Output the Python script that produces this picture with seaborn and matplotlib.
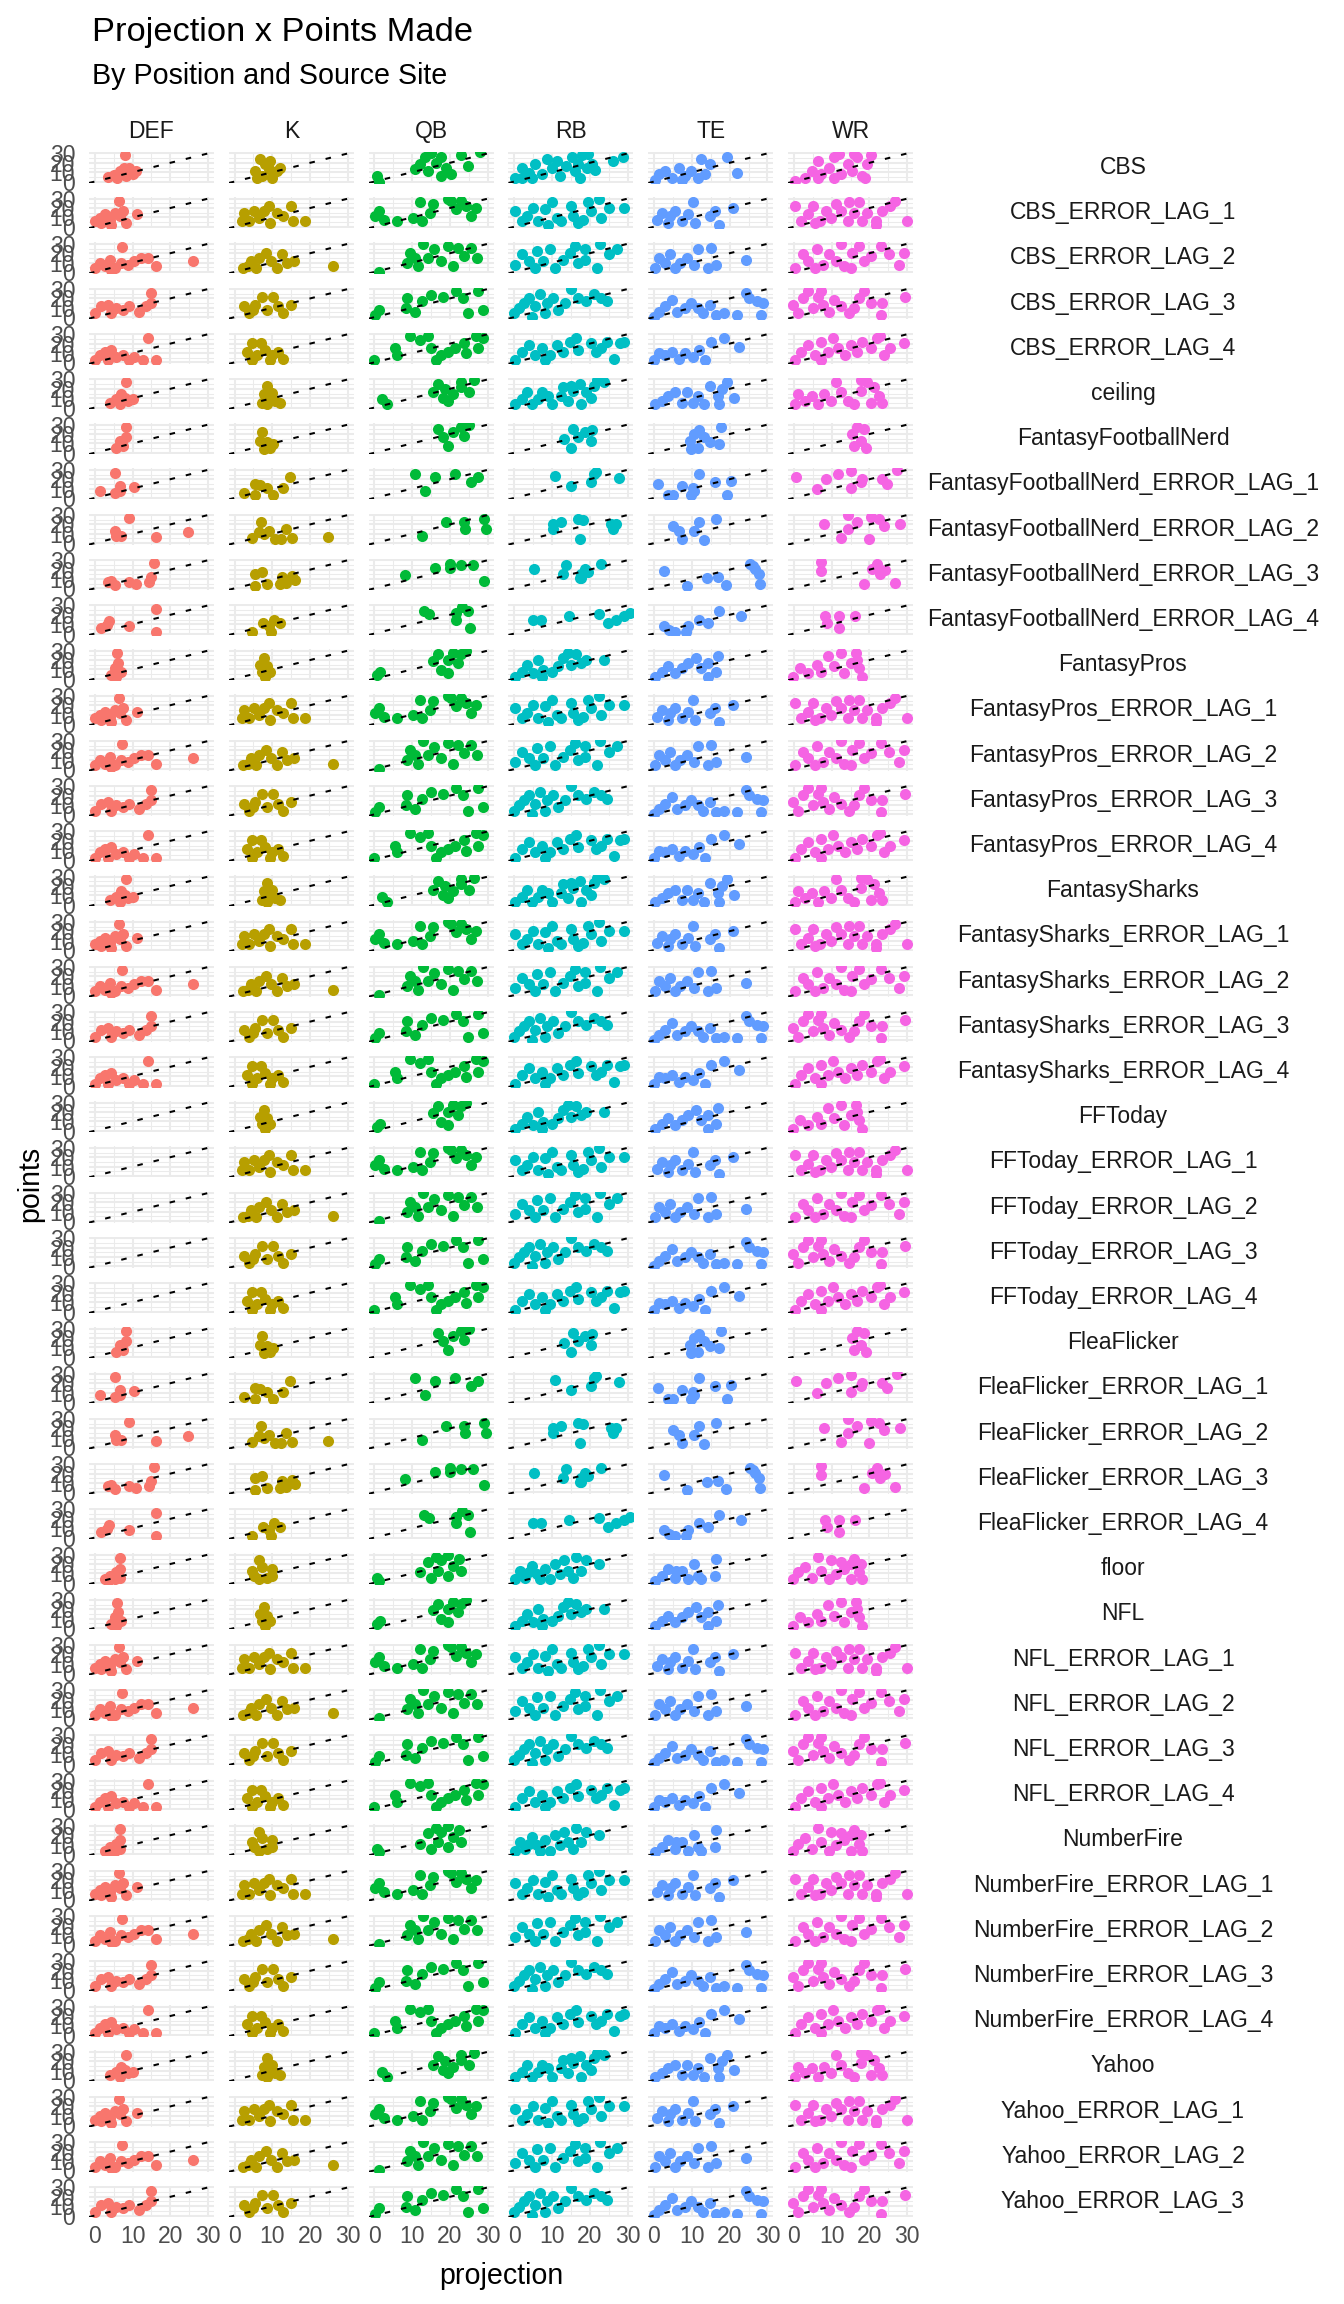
import matplotlib
matplotlib.use("Agg")
import matplotlib.pyplot as plt
import matplotlib.transforms as mtransforms
import seaborn as sns
import pandas as pd

"""
Data read off the reference chart (projection, points) per position.
Rows of the same kind (same lag, similar source) share one reading.
"""

POSITIONS = ["DEF", "K", "QB", "RB", "TE", "WR"]
COLORS = ["#F8766D", "#B79F00", "#00BA38", "#00BFC4", "#619CFF", "#F564E3"]

SOURCES = [
    "CBS", "CBS_ERROR_LAG_1", "CBS_ERROR_LAG_2", "CBS_ERROR_LAG_3", "CBS_ERROR_LAG_4",
    "ceiling",
    "FantasyFootballNerd", "FantasyFootballNerd_ERROR_LAG_1", "FantasyFootballNerd_ERROR_LAG_2",
    "FantasyFootballNerd_ERROR_LAG_3", "FantasyFootballNerd_ERROR_LAG_4",
    "FantasyPros", "FantasyPros_ERROR_LAG_1", "FantasyPros_ERROR_LAG_2",
    "FantasyPros_ERROR_LAG_3", "FantasyPros_ERROR_LAG_4",
    "FantasySharks", "FantasySharks_ERROR_LAG_1", "FantasySharks_ERROR_LAG_2",
    "FantasySharks_ERROR_LAG_3", "FantasySharks_ERROR_LAG_4",
    "FFToday", "FFToday_ERROR_LAG_1", "FFToday_ERROR_LAG_2", "FFToday_ERROR_LAG_3",
    "FFToday_ERROR_LAG_4",
    "FleaFlicker", "FleaFlicker_ERROR_LAG_1", "FleaFlicker_ERROR_LAG_2",
    "FleaFlicker_ERROR_LAG_3", "FleaFlicker_ERROR_LAG_4",
    "floor",
    "NFL", "NFL_ERROR_LAG_1", "NFL_ERROR_LAG_2", "NFL_ERROR_LAG_3", "NFL_ERROR_LAG_4",
    "NumberFire", "NumberFire_ERROR_LAG_1", "NumberFire_ERROR_LAG_2",
    "NumberFire_ERROR_LAG_3", "NumberFire_ERROR_LAG_4",
    "Yahoo", "Yahoo_ERROR_LAG_1", "Yahoo_ERROR_LAG_2", "Yahoo_ERROR_LAG_3",
]

CBS = {
    "DEF": [(3.5, 5), (5, 7), (6.8, 11), (7.7, 15), (9.2, 14), (10, 8), (8.3, 6), (6, 4), (11, 11), (8, 28)],
    "K": [(6.8, 24), (8.1, 19), (5.5, 11), (7.3, 6), (9.9, 4), (11.2, 11), (12, 15), (9, 13), (5.9, 4), (9.4, 22)],
    "QB": [(0.7, 6), (1.2, 0), (12, 19), (13.3, 26), (15.1, 30), (16.4, 20), (17.7, 26), (17.7, 6), (19, 15),
           (20.3, 8), (22.9, 28), (24.7, 17), (28, 31), (10.7, 13), (14.2, 11)],
    "RB": [(0.3, 4), (2.1, 15), (3.8, 9.5), (5.5, 18.7), (7.3, 7.7), (8.6, 24), (9.9, 15), (11.2, 22), (12, 5.9),
           (13.8, 16.8), (15.3, 26), (16.2, 11.4), (17.5, 4), (17.9, 27.8), (19.6, 29.7), (20.5, 18.7), (21.4, 12),
           (26.2, 21.6), (28.8, 26), (17, 18.7), (19.2, 15), (4.7, 4), (2, 4)],
    "TE": [(1.2, 7.7), (3, 11.4), (4.7, 4), (6.5, 15), (8.1, 5.9), (9.9, 11.4), (11.6, 4), (12.5, 24), (14.7, 18.7),
           (13.4, 7.7), (19.4, 26), (22, 9.5), (0.3, 2.2), (7.3, 2.2)],
    "WR": [(0.3, 0.4), (2.9, 4), (4.7, 11.4), (6.4, 22), (7.3, 7.7), (9.4, 15), (10.7, 26), (12, 29.7), (12.5, 7.7),
           (14.2, 18.7), (15.5, 11.4), (16.8, 26), (18.1, 5.9), (19.4, 18.7), (20.3, 27.8), (18.9, 4), (10.7, 4),
           (16, 29.7), (6.4, 4)],
}

LAG1 = {
    "DEF": [(6.3, 27.8), (0, 5.9), (1.3, 9.5), (2.7, 13.2), (4, 7.7), (5.3, 15), (6.6, 11.4), (7.4, 16.8), (8.3, 4),
            (4.4, 2.2), (11.3, 13.2), (1.8, 4)],
    "K": [(2.5, 15), (3.8, 5.9), (5.1, 16.8), (6.4, 9.5), (7.7, 16.8), (9, 22), (9.4, 4), (11.2, 15), (12.9, 11.4),
          (15, 22), (15.5, 5.9), (18.6, 5.9), (2, 5.9)],
    "QB": [(1.2, 16.8), (2.5, 7.7), (6, 5.9), (10.3, 9.5), (12, 26), (12.5, 5.9), (14.7, 15), (15.5, 24), (20.3, 27.8),
           (21.6, 18.7), (24.2, 22), (25.5, 11.4), (26.8, 20.5), (19.4, 29.7), (22.9, 27.8), (0.3, 11.4)],
    "RB": [(0.3, 16.8), (2.1, 5.9), (5.1, 20.5), (6.4, 5.9), (8.1, 18.7), (9.9, 26), (11.2, 9.5), (12.5, 5.9),
           (15.1, 22), (15.5, 11.4), (18.1, 7.7), (19.4, 26), (20.3, 16.8), (22.5, 29.7), (22.9, 9.5), (25.1, 20.5),
           (29, 20.5), (16.8, 4), (3.4, 11.4), (9, 2.2)],
    "TE": [(0.7, 7.7), (2, 15), (4.2, 11.4), (5.5, 16.8), (7.3, 5.9), (9, 13.2), (10.3, 26), (10.8, 4), (14.7, 11.4),
           (16, 16.8), (17.3, 2.2), (20.8, 20.5), (3.8, 4)],
    "WR": [(0.3, 22), (2, 5.9), (3.8, 13.2), (5, 22), (6.8, 5.9), (8.6, 16.8), (9.9, 9.5), (11.2, 24), (12.5, 16.8),
           (14.7, 26), (16, 15), (17.3, 26), (18.1, 5.9), (19.4, 15), (21.6, 5.9), (23.3, 16.8), (25.4, 22),
           (26.8, 27.8), (29.9, 5.9), (5.5, 4), (14.2, 5.9), (21.6, 2.2)],
}

LAG2 = {
    "DEF": [(7.2, 26.7), (0, 4), (1.3, 9.5), (2.7, 5.9), (4, 13.2), (5.3, 4), (7, 9.5), (8.7, 7.7), (10.5, 11.4),
            (12.2, 15), (14.1, 15), (16.1, 5.9), (26.1, 11.4), (4.4, 2.2)],
    "K": [(2.2, 4), (4.4, 11.4), (5.7, 4), (6.6, 15), (8.3, 20.5), (9.6, 11.4), (11.3, 4), (12.6, 18.7), (13.9, 9.5),
          (15.6, 11.4), (26, 5.9), (3.5, 5.9)],
    "QB": [(1.2, 0.4), (8.6, 9.5), (9.4, 20.5), (11.6, 5.9), (12.9, 29.7), (14.2, 15), (15.9, 24), (17.7, 11.4),
           (19.4, 27.8), (20.7, 5.9), (22, 26), (23.8, 16.8), (25.5, 26), (27.2, 15), (10.8, 15)],
    "RB": [(0.3, 7.7), (2.1, 18.7), (3.8, 11.4), (6, 22.3), (7.7, 11.4), (9.4, 24.2), (10.7, 4), (12.9, 13.2),
           (14.7, 20.5), (16, 27.8), (16.8, 9.5), (18.6, 13.2), (21.9, 4), (22.8, 29.7), (25, 18.7), (27.2, 24.2),
           (18.6, 24.2), (5.5, 4)],
    "TE": [(0.3, 4), (1.2, 15), (3, 9.5), (4.2, 18.7), (5.5, 4), (6.8, 9.5), (8.6, 15), (10.7, 7.7), (11.6, 24.2),
           (15, 26), (14.2, 4), (16.4, 7.7), (24.2, 13.2)],
    "WR": [(0.3, 4), (2.5, 18.7), (3.8, 11.4), (6, 24.2), (7.7, 7.7), (9.4, 18.7), (11.2, 11.4), (12.5, 29.7),
           (13.3, 5.9), (15.5, 20.5), (17.3, 27.8), (18.6, 11.4), (20.3, 16.8), (23, 27.8), (25.2, 18.7), (27.8, 7.7),
           (29.1, 20.5), (5.5, 4), (15, 4)],
}

LAG3 = {
    "DEF": [(14.8, 26), (0, 4), (1.8, 11.4), (3.5, 13.2), (4.4, 4), (5.7, 9.5), (7.4, 7.7), (9.2, 11.4), (11.8, 5.9),
            (13.5, 11.4), (14.8, 15)],
    "K": [(2.5, 11.4), (3.8, 4), (5.5, 13.2), (7.3, 22), (8.6, 7.7), (10.3, 22), (11.6, 11.4), (12.9, 4), (15, 13.2),
          (4.8, 7.7)],
    "QB": [(0.3, 2.2), (1.2, 7.7), (8.6, 20.5), (8.3, 9.5), (10.8, 5.9), (12.5, 16.8), (15.1, 24), (18.1, 22),
           (21.6, 27.8), (23.4, 20.5), (24.7, 4), (27.3, 27.8), (28.6, 7.7)],
    "RB": [(-0.1, 4), (1.2, 9.5), (2.5, 15), (3.8, 20.5), (5.5, 11.4), (6.8, 24.2), (8.6, 15), (10.3, 20.5),
           (11.6, 7.7), (13.4, 15), (15.1, 29.7), (16.8, 20.5), (19, 16.8), (21.2, 24.2), (22.9, 20.5), (24.6, 16.8),
           (4.7, 0.4), (8.1, 4)],
    "TE": [(-0.1, 0.4), (1.2, 5.9), (3, 11.4), (4.7, 18.7), (6, 5.9), (8.1, 9.5), (9.9, 15), (11.6, 9.5), (12.9, 4),
           (14.7, 13.2), (16.4, 2.2), (18.6, 4), (22, 2.2), (24.2, 26), (25, 20.5), (27.2, 16.8), (28.4, 2.2),
           (28.8, 15)],
    "WR": [(-0.1, 13.2), (1.2, 4), (2.5, 20.5), (3.8, 27.8), (5.1, 9.5), (6.4, 22), (7.7, 13.2), (9.4, 5.9),
           (10.7, 18.7), (12.5, 11.4), (14.7, 4), (17.3, 20.5), (18.6, 27.8), (20.3, 15), (23, 2.2), (23.4, 15),
           (29.4, 22), (7.3, 27.8), (16, 9.5)],
}

LAG4 = {
    "DEF": [(14, 26), (0, 2.2), (1.3, 7.7), (2.7, 11.4), (4.4, 13.2), (5.7, 5.9), (7.4, 7.7), (9.2, 2.2), (10.5, 5.9),
            (12.7, 2.2), (16.2, 2.2), (3.5, 2.2)],
    "K": [(3.3, 11.4), (4.7, 20.5), (6.9, 20.5), (6, 7.7), (8.1, 13.2), (9.9, 7.7), (11.6, 11.4), (12.9, 4),
          (4.7, 2.2), (9.4, 2.2)],
    "QB": [(-0.1, 2.2), (5.4, 15), (5.9, 7.7), (9.4, 27.8), (12, 24.2), (14.2, 27.8), (15.1, 15), (17.7, 7.7),
           (16.4, 2.2), (19.4, 11.4), (21.2, 15), (23.8, 20.5), (26.8, 27.8), (27.3, 15), (24.2, 9.5), (28.6, 26)],
    "RB": [(0.3, 2.2), (2.1, 11.4), (3.8, 18.7), (5.5, 7.7), (7.3, 15), (9.4, 7.7), (11.2, 18.7), (12.9, 11.4),
           (14.7, 22), (16.4, 26), (16.8, 13.2), (20.3, 20.5), (21.6, 11.4), (22.9, 15), (24.6, 22), (26.3, 4),
           (28, 20.5), (29, 22), (8.1, 2.2)],
    "TE": [(-0.1, 2.2), (1.2, 9.5), (3, 7.7), (4.7, 11.4), (6.5, 4), (8.1, 9.5), (10.3, 5.9), (12, 13.2), (13.4, 2.2),
           (15.1, 22), (18.6, 26), (22.5, 16.8)],
    "WR": [(0.3, 2.2), (2, 11.4), (3.8, 18.7), (5.5, 7.7), (7.3, 22), (9, 11.4), (10.3, 26), (11.6, 15), (13.4, 7.7),
           (15, 18.7), (16.8, 11.4), (18.1, 22), (20.3, 15), (22, 26), (23.8, 7.7), (25.5, 15), (29, 20.5),
           (22.9, 27.8), (7.3, 2.2)],
}

CEILING = {
    "DEF": [(8.3, 27.1), (4, 5.1), (5.7, 8.8), (7, 14.3), (6.6, 3.3), (8.7, 7), (10, 8.8), (7.9, 10.5)],
    "K": [(8.6, 23.2), (7.7, 14.3), (9.4, 12.4), (7.3, 5.1), (10.7, 7), (12, 5.1), (9.9, 16), (8.6, 3.3)],
    "QB": [(2, 8.8), (3.3, 3.3), (15.5, 16.1), (16.8, 25.3), (18.6, 19.8), (19.4, 7), (18.1, 10.5), (20.7, 14.3),
           (22.9, 21.6), (25, 16.1), (26.4, 28.9), (22.9, 27.1)],
    "RB": [(0.3, 3.3), (2, 8.8), (3.3, 16.1), (4.7, 3.3), (6.4, 8.8), (7.3, 16.1), (9, 12.4), (9.9, 3.3), (12.5, 12.4),
           (12.9, 21.6), (14.2, 7), (15.5, 17.9), (17.3, 25.3), (17.7, 3.3), (19, 16.1), (20.3, 10.5), (21.2, 23.4),
           (22, 28.9), (23.8, 27.1), (15.1, 23.4)],
    "TE": [(0.3, 3.3), (2, 7), (3.8, 12.4), (5.5, 16.1), (7.3, 5.1), (8.6, 16.1), (10.3, 5.1), (11.6, 12.4),
           (13.3, 3.3), (14.7, 23.4), (16.8, 12.4), (17.3, 3.3), (18.1, 19.8), (19.4, 27.1), (21.2, 10.5)],
    "WR": [(0.3, 3.3), (1.2, 14.3), (2.9, 7), (4.7, 12.4), (6.4, 3.3), (8.1, 14.3), (9.9, 7), (11.2, 27.1),
           (12.5, 16.1), (14.2, 7), (16, 3.3), (17.7, 17.9), (19.4, 27.1), (21.2, 21.6), (22.5, 12.4), (23.3, 5.1),
           (20.3, 5.1), (17.7, 28.9)],
}

FFN = {
    "DEF": [(8.3, 27.5), (6.6, 12.8), (7.4, 7.3), (8.3, 16.5), (5.7, 5.5)],
    "K": [(7.3, 22), (6.8, 12.8), (8.6, 11), (7.7, 3.7), (9.4, 5.5), (10.3, 9.2)],
    "QB": [(16.8, 25.6), (18.1, 16.5), (19.4, 7.3), (20.7, 22), (22.9, 27.5), (23.8, 18.3), (25, 29.3)],
    "RB": [(13.3, 14.6), (15.5, 25.6), (16.8, 16.5), (15, 5.5), (18.6, 22), (20.3, 12.8), (20.7, 23.8)],
    "TE": [(9.4, 12.8), (10.7, 20.2), (12, 23.8), (13.3, 16.5), (11.6, 5.5), (14.7, 11), (17.3, 9.2), (17.7, 27.5),
           (9.9, 3.7)],
    "WR": [(15.5, 20.2), (16.8, 27.5), (17.7, 12.8), (19, 5.5), (18.6, 25.6), (16, 7.3)],
}

FFN_LAG1 = {
    "DEF": [(5.4, 26.4), (1.3, 7.3), (5.3, 5.5), (6.6, 12.8), (6.6, 7.3), (10.3, 11.7)],
    "K": [(2.5, 5.5), (5.5, 14.6), (6.8, 13.9), (5.5, 3.7), (8.6, 11), (10.3, 3.7), (12.9, 11), (14.7, 22)],
    "QB": [(10.7, 25.6), (13.3, 7.3), (16, 22), (21.2, 25.6), (25.5, 16.5), (27.3, 22)],
    "RB": [(10.7, 23.8), (15.1, 12.8), (20.3, 16.5), (21.2, 25.6), (27.7, 21.2), (21.6, 27.5)],
    "TE": [(1, 14.6), (3.8, 3.7), (5.1, 3.7), (7.3, 12.8), (9.9, 3.7), (10.3, 11), (12, 25.6), (16, 16.5),
           (20.3, 18.3), (19.4, 3), (10.7, 7.3)],
    "WR": [(0.7, 22), (6, 9.2), (8.6, 20.2), (11.6, 25.6), (15.1, 28.6), (15.1, 11), (18.1, 20.2), (23.3, 20.2),
           (24.7, 14.6), (27.3, 30), (17.7, 16.5)],
}

FFN_LAG2 = {
    "DEF": [(9.2, 27.1), (5.3, 13.2), (5.7, 7.7), (7, 7.7), (16.1, 6.6), (24.7, 11.4)],
    "K": [(7.1, 22.3), (4.7, 5.9), (6.4, 11.4), (7.7, 9.5), (9, 13.2), (10.7, 4), (12.4, 4), (13.5, 15), (15.3, 5.9),
          (24.7, 6.6)],
    "QB": [(12.7, 7.7), (19, 22.3), (23.8, 22.3), (24, 15), (29, 26), (29.5, 15)],
    "RB": [(10.3, 20.5), (12.5, 22.3), (10.3, 15), (16.8, 26), (18.1, 24.2), (17.3, 4.8), (25.5, 20.5), (26.8, 20.5),
           (26, 15)],
    "TE": [(5.1, 18.7), (6.5, 13.2), (7.3, 4), (10.7, 13.2), (12, 22.3), (13.2, 3), (16.4, 26)],
    "WR": [(8.1, 20.5), (12.5, 5.9), (14.2, 29.7), (14.2, 15), (16.6, 22.3), (19.9, 4), (20.3, 27.8), (22.5, 26),
           (23.8, 18.7), (28.1, 20.5)],
}

FFN_LAG3 = {
    "DEF": [(4.4, 8.1), (5.3, 3.7), (9.2, 7.3), (10.9, 5.1), (14.4, 7.3), (15, 11.7), (15.7, 27.1), (3.5, 7.3)],
    "K": [(5.5, 15.4), (7.3, 17.2), (5.5, 2.6), (8.6, 4.4), (12.5, 11.7), (13.5, 6.2), (15.1, 13.5), (16, 9.2),
          (12, 4.4)],
    "QB": [(8.1, 14.6), (16, 22), (19.9, 26.4), (19.9, 22), (22.9, 24.5), (26, 24.5), (29, 8.1)],
    "RB": [(5.3, 20.9), (12.9, 15.4), (13.8, 24.5), (17.7, 15.4), (18.6, 20.9), (17.7, 11), (19.4, 17.2),
           (22.9, 25.6), (17.5, 11)],
    "TE": [(2.7, 18.3), (8.8, 2.6), (14, 11), (16.8, 12.5), (19, 3.7), (25.5, 26.4), (26.8, 20.9), (27.7, 15.4),
           (28.1, 4.4), (26.3, 23.5)],
    "WR": [(7.3, 28.2), (7.3, 19), (18.6, 4.4), (20.7, 20.9), (22, 26.4), (22.9, 15.4), (24.2, 19.8), (26.8, 6.2)],
}

FFN_LAG4 = {
    "DEF": [(16.2, 26.7), (3.2, 9.5), (1.7, 5.8), (9, 7.7), (16.2, 2.2), (3.9, 13.2)],
    "K": [(4.6, 2.2), (7.5, 11.3), (9.7, 2.2), (10.4, 15), (9, 7.7), (11.9, 11.3)],
    "QB": [(13, 24.2), (14.5, 20.5), (21.7, 15), (23.2, 27.8), (24.7, 24.2), (25.4, 5.8), (21.7, 22.3)],
    "RB": [(5, 15), (7.2, 15), (14.5, 18.7), (22.5, 20.5), (24.7, 11.3), (26.8, 15), (29, 18.7), (30.5, 22.3)],
    "TE": [(2.6, 7.7), (5.5, 2.2), (8.4, 2.2), (9.1, 7.7), (12, 15), (14.2, 11.3), (17.1, 24.2), (22.9, 18.7),
           (4, 4)],
    "WR": [(8.2, 18.7), (8.9, 11.3), (11.9, 18.7), (11.9, 5.8), (16.2, 18.7)],
}

FLOOR = {
    "DEF": [(6.6, 26.4), (2.7, 3.7), (4, 7.3), (5.7, 11), (6.6, 14.6), (5.3, 3.7), (6.6, 5.5), (3.5, 1.8)],
    "K": [(6.4, 23.8), (4.7, 12.8), (7.3, 16.5), (9.9, 14.6), (6.4, 3.7), (8.6, 5.5), (9.9, 7.3), (5.1, 7.3)],
    "QB": [(0.7, 5.5), (1.2, 1.8), (12, 11), (14.2, 22), (15.1, 5.5), (16.8, 12.8), (17.7, 23.8), (19.4, 7.3),
           (20.7, 18.3), (22.5, 25.6), (22.9, 12.8), (16.4, 27.5), (19.4, 29.3)],
    "RB": [(0.3, 3.7), (1.6, 12.8), (2.9, 5.5), (4.7, 18.3), (6, 9.2), (6.8, 3.7), (8.1, 14.6), (9.4, 3.7),
           (10.7, 20.2), (12, 9.2), (13.3, 23.8), (14.2, 12.8), (15.5, 5.5), (16.4, 27.5), (17.7, 12.8), (19, 23.8),
           (22.5, 20.2), (3.8, 11)],
    "TE": [(0.3, 1.8), (2, 7.3), (3.8, 14.6), (5.5, 5.5), (7.3, 12.8), (9, 3.7), (10.7, 20.2), (11.6, 7.3),
           (12.5, 3.7), (16.4, 25.6), (16, 7.3), (5.9, 12.8)],
    "WR": [(-0.1, 3.7), (1.2, 11), (2.9, 16.5), (4.7, 5.5), (6.4, 27.5), (7.3, 12.8), (9.4, 3.7), (9.9, 23.8),
           (11.2, 9.2), (13.3, 14.6), (15.1, 3.7), (16, 25.6), (17.3, 11), (17.7, 20.2), (15.1, 20.2), (18.1, 3.7),
           (12.5, 22)],
}

NFL = {
    "DEF": [(6, 27.1), (4.4, 4), (5.3, 11.4), (6.1, 16.8), (5.7, 2.2), (7, 7.7)],
    "K": [(7.7, 22.3), (6.8, 15), (8.6, 13.2), (7.3, 7.7), (9.4, 7.7), (8.1, 2.2)],
    "QB": [(0.7, 4), (1.6, 7.7), (15.5, 18.7), (16.8, 26), (17.7, 9.5), (19.4, 20.5), (20.7, 27.8), (22, 16.8),
           (22.9, 26), (24.2, 29.7), (19.4, 5.9)],
    "RB": [(0.3, 2.2), (2, 7.7), (3.3, 15), (5.1, 5.9), (6.4, 20.5), (7.7, 9.5), (9.9, 7.7), (11.6, 13.2),
           (12.9, 22.3), (14.2, 27.8), (15.1, 15), (16.4, 26), (17.7, 16.8), (19, 20.5), (23.8, 20.5), (7.3, 2.2)],
    "TE": [(0.3, 2.2), (2, 7.7), (3.8, 13.2), (5.5, 5.9), (7.3, 11.4), (9, 16.8), (11.2, 22.3), (12.5, 11.4),
           (14.2, 2.2), (16.4, 7.7), (16.8, 24.2), (14.2, 16.8)],
    "WR": [(-0.1, 2.2), (1.6, 11.4), (3.8, 5.9), (6, 15), (7.3, 7.7), (9, 24.2), (10.7, 13.2), (12.5, 27.8),
           (13.3, 5.9), (15.1, 16.8), (16.4, 27.8), (17.3, 11.4), (18.1, 2.2), (16.8, 20.5)],
}

MAIN_ROWS = {
    "CBS": CBS, "ceiling": CEILING, "FantasyFootballNerd": FFN, "FantasyPros": NFL,
    "FantasySharks": CEILING, "FFToday": NFL, "FleaFlicker": FFN, "floor": FLOOR,
    "NFL": NFL, "NumberFire": FLOOR, "Yahoo": CEILING,
}
LAG_ROWS = {"1": LAG1, "2": LAG2, "3": LAG3, "4": LAG4}
SPARSE_LAG_ROWS = {"1": FFN_LAG1, "2": FFN_LAG2, "3": FFN_LAG3, "4": FFN_LAG4}
NO_DEF = ["FFToday"]


def reading_for(source):
    if "_ERROR_LAG_" in source:
        base, lag = source.split("_ERROR_LAG_")
        if base in ("FantasyFootballNerd", "FleaFlicker"):
            return base, SPARSE_LAG_ROWS[lag]
        return base, LAG_ROWS[lag]
    return source, MAIN_ROWS[source]


rows = []
for source in SOURCES:
    base, reading = reading_for(source)
    for pos in POSITIONS:
        if pos == "DEF" and base in NO_DEF:
            continue
        for x, y in reading[pos]:
            rows.append((source, pos, x, y))

df = pd.DataFrame(rows, columns=["source", "position", "projection", "points"])

"""
Do the plotting.
"""

sns.set_theme(style="white")
plt.rcParams["font.family"] = ["Liberation Sans", "DejaVu Sans"]

TEXT = "#1A1A1A"
TICK = "#4D4D4D"
GRID = "#EBEBEB"
pos_color = dict(zip(POSITIONS, COLORS))

fig, axes = plt.subplots(
    len(SOURCES), len(POSITIONS), figsize=(13.44, 23.04), sharex=True, sharey=True,
    gridspec_kw=dict(left=89 / 1344, right=913 / 1344, top=1 - 152 / 2304, bottom=1 - 2217 / 2304,
                     wspace=0.12, hspace=0.458),
)

# fix the shared limits first so nothing autoscales across 276 axes
axes[0, 0].set_xlim(-1.5, 31.5)
axes[0, 0].set_ylim(-1.5, 31.5)
axes[0, 0].set_xticks([0, 10, 20, 30])
axes[0, 0].set_yticks([0, 10, 20, 30])
axes[0, 0].set_xticks([5, 15, 25], minor=True)
axes[0, 0].set_yticks([5, 15, 25], minor=True)
for ax in axes.flat:
    ax.set_autoscale_on(False)

groups = {k: v for k, v in df.groupby(["source", "position"])}

for i, source in enumerate(SOURCES):
    for j, pos in enumerate(POSITIONS):
        ax = axes[i, j]
        sub = groups.get((source, pos))
        if sub is not None:
            sns.scatterplot(data=sub, x="projection", y="points", color=pos_color[pos],
                            s=64, linewidth=0, legend=False, ax=ax)
        ax.set_xlabel("")
        ax.set_ylabel("")
        ax.grid(which="major", color=GRID, linewidth=1.5)
        ax.grid(which="minor", color=GRID, linewidth=0.75)
        ax.set_axisbelow(True)
        for sp in ax.spines.values():
            sp.set_visible(False)
        ax.tick_params(which="both", length=0, colors=TICK, labelsize=16.5)
        ax.tick_params(axis="x", pad=6)
        ax.tick_params(axis="y", pad=10)
        ax.axline((0, 0), slope=1, color="black", linewidth=1.45, linestyle=(0, (2.75, 5.5)), zorder=3)
        if i == 0:
            ax.annotate(pos, xy=(0.5, 1), xycoords="axes fraction", xytext=(0, 15),
                        textcoords="offset points", ha="center", va="center",
                        fontsize=16.5, color=TEXT)
    trans = mtransforms.blended_transform_factory(fig.transFigure, axes[i, -1].transAxes)
    axes[i, -1].text(1123 / 1344, 0.5, source, transform=trans, ha="center", va="center",
                     fontsize=16.5, color=TEXT)

fig.text(92 / 1344, 1 - 32 / 2304, "Projection x Points Made", fontsize=24.75, ha="left", va="center",
         color="black")
fig.text(92 / 1344, 1 - 76 / 2304, "By Position and Source Site", fontsize=20.6, ha="left", va="center",
         color="black")
fig.text(501 / 1344, 1 - 2276 / 2304, "projection", fontsize=20.6, ha="center", va="center", color="black")
fig.text(30 / 1344, 1 - 1184 / 2304, "points", fontsize=20.6, ha="center", va="center", rotation=90,
         color="black")

fig.savefig("out.png", dpi=100)
plt.close(fig)
